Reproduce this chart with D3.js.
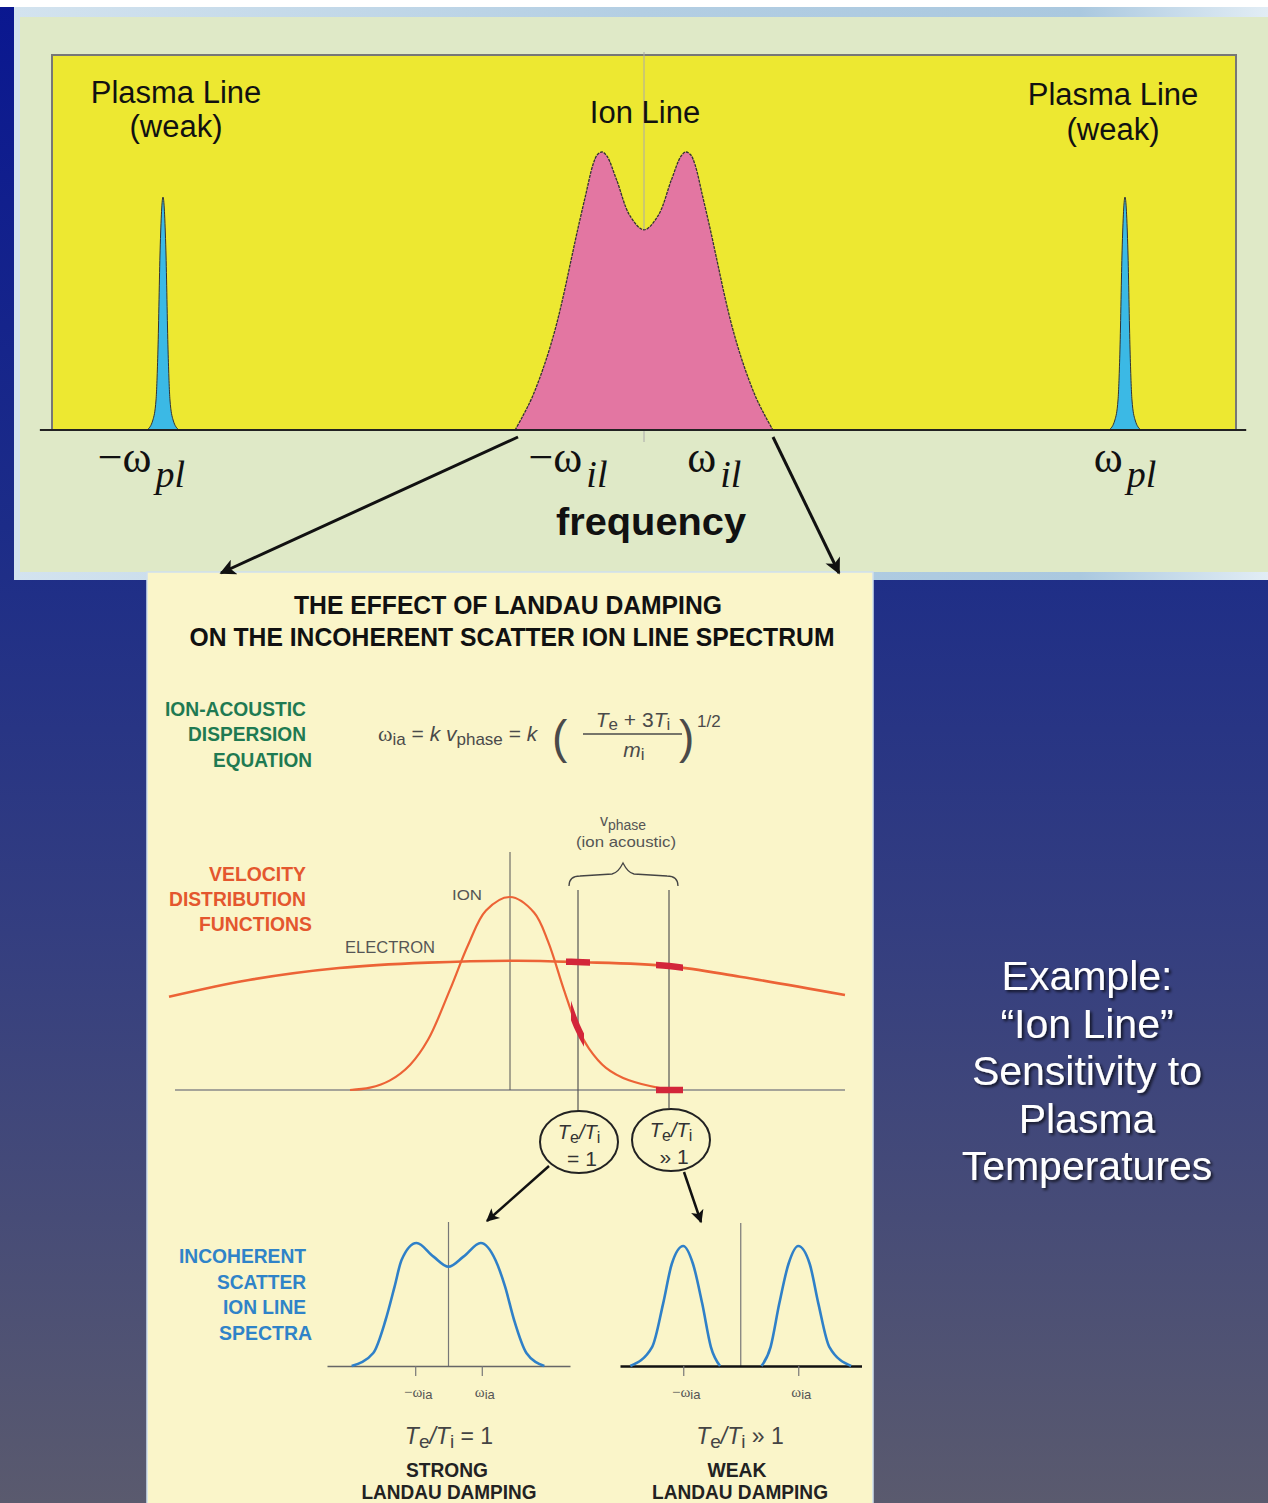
<!DOCTYPE html>
<html><head><meta charset="utf-8">
<script src="https://cdn.jsdelivr.net/npm/d3@7"></script>
<style>html,body{margin:0;padding:0;overflow:hidden;background:#fff}svg{display:block}</style>
</head><body>
<script>
// ---------------- DATA ----------------
// Top panel: ion line spectrum (frequency units: plasma line at ±100), amplitude relative to ion peak
const ionLineFreq = [-26.8,-25.2,-23.2,-20.6,-18.5,-16.8,-15.3,-13.8,-12.2,-10.6,-9.7,-8.7,-7.7,-5.7,-2.9,0,2.9,5.7,7.7,8.7,9.7,10.6,12.2,13.8,15.3,16.8,18.5,20.6,23.2,25.2,26.8];
const ionLineAmp  = [0,0.05,0.12,0.24,0.36,0.48,0.60,0.72,0.84,0.955,0.99,1.0,0.985,0.90,0.77,0.72,0.77,0.90,0.985,1.0,0.99,0.955,0.84,0.72,0.60,0.48,0.36,0.24,0.12,0.05,0];
const plasmaLineCenters = [-100, 100];
const plasmaLineOffset = [-3.3,-2.1,-1.45,-1.05,-0.6,0,0.6,1.05,1.45,2.1,3.3];
const plasmaLineAmp    = [0,0.036,0.108,0.288,0.647,0.838,0.647,0.288,0.108,0.036,0];
const topTickMain = ["\u2212\u03c9","\u2212\u03c9","\u03c9","\u03c9"];
const topTickSub  = ["pl","il","il","pl"];
const topTickFreq = [-104.5,-15.8,14.6,100];

// Velocity distribution functions
const electronVel  = [-34.1,-26.1,-17.1,-8.2,0.7,6.7,15.9,23.0,33.5];
const electronDist = [0.483,0.570,0.632,0.660,0.670,0.663,0.642,0.587,0.492];
const ionVel  = [-16.0,-14.0,-12.0,-10.0,-8.2,-6.0,-4.2,-2.4,0,2.4,3.8,5.4,6.7,7.9,9.6,11.9,15.0];
const ionDist = [0,0.012,0.05,0.13,0.26,0.52,0.75,0.93,1.0,0.92,0.77,0.518,0.33,0.215,0.115,0.05,0.01];
const phaseVel = [6.8, 15.9];
const electronBars = [[5.6,8.0],[14.6,17.3]];
const ionBars = [[6.1,7.4]];
const baselineBars = [[14.6,17.3]];

// Incoherent scatter ion line spectra (frequency in units of omega_ia)
const strongW = [-2.91,-2.26,-1.89,-1.62,-1.41,-0.96,-0.45,0,0.45,0.97,1.41,1.70,1.97,2.34,2.88];
const strongA = [0,0.106,0.374,0.645,0.862,1.0,0.889,0.807,0.889,1.0,0.862,0.645,0.374,0.106,0];
const weakLeftW  = [-1.92,-1.54,-1.35,-1.20,-1.0,-0.83,-0.67,-0.52,-0.36];
const weakRightW = [0.36,0.52,0.67,0.83,1.0,1.20,1.35,1.54,1.92];
const weakPeakA  = [0,0.16,0.52,0.85,1.0,0.85,0.52,0.16,0];
const weakRightA = [0,0.16,0.52,0.85,1.0,0.85,0.52,0.16,0];
const spectraTicks = [-1, 1];

// ---------------- LAYOUT ----------------
const W = 1268, H = 1503;
const SANS = "'Liberation Sans', Arial, Helvetica, sans-serif";
const NARROW = "'Liberation Sans Narrow', 'Liberation Sans', Arial, sans-serif";
const SERIF = "'Liberation Serif', 'Times New Roman', serif";
const smooth = d3.curveCatmullRom.alpha(0.5);

const svg = d3.select("body").append("svg").attr("width", W).attr("height", H);
const defs = svg.append("defs");

const bg = defs.append("linearGradient").attr("id","bg").attr("gradientUnits","userSpaceOnUse")
  .attr("x1",0).attr("y1",0).attr("x2",0).attr("y2",H);
[[0,"#0a1790"],[0.35,"#1c2c88"],[0.62,"#343e80"],[1,"#5a5a6e"]].forEach(s=>bg.append("stop").attr("offset",s[0]).attr("stop-color",s[1]));
const fr = defs.append("linearGradient").attr("id","frame").attr("x1",0).attr("x2",1).attr("y1",0).attr("y2",0);
[[0,"#d3e3ef"],[0.5,"#b3cee3"],[0.85,"#aac8df"],[1,"#e2edf5"]].forEach(s=>fr.append("stop").attr("offset",s[0]).attr("stop-color",s[1]));

function marker(id, w, h) {
  defs.append("marker").attr("id", id).attr("viewBox","0 0 10 10").attr("refX",9).attr("refY",5)
    .attr("markerUnits","userSpaceOnUse").attr("markerWidth", w).attr("markerHeight", h).attr("orient","auto")
    .append("path").attr("d","M0,0 L10,5 L0,10 L2.5,5 Z").attr("fill","#111");
}
marker("arrowBig", 22, 16);
marker("arrowSmall", 16, 13);

const sh = defs.append("filter").attr("id","shadow").attr("x","-10%").attr("y","-20%").attr("width","130%").attr("height","150%");
sh.append("feDropShadow").attr("dx",2).attr("dy",2).attr("stdDeviation",1.5).attr("flood-color","#000").attr("flood-opacity",0.7);

// background
svg.append("rect").attr("width",W).attr("height",H).attr("fill","url(#bg)");
svg.append("rect").attr("width",W).attr("height",7).attr("fill","#fff");

// ---------- TOP PANEL ----------
svg.append("rect").attr("x",14).attr("y",7).attr("width",W-14).attr("height",573).attr("fill","url(#frame)");
svg.append("rect").attr("x",20).attr("y",17).attr("width",W-20).attr("height",555).attr("fill","#dfe9c7");
svg.append("rect").attr("x",52).attr("y",55).attr("width",1184).attr("height",375)
  .attr("fill","#ede831").attr("stroke","#777").attr("stroke-width",2);

const xTop = d3.scaleLinear().domain([-100,100]).range([163,1125]);
const yTop = d3.scaleLinear().domain([0,1]).range([430,152]);

svg.append("line").attr("x1",xTop(0)).attr("x2",xTop(0)).attr("y1",52).attr("y2",442)
  .attr("stroke","#aaa").attr("stroke-width",1);

const areaPlasma = d3.area().x(d=>xTop(d[0])).y0(yTop(0)).y1(d=>yTop(d[1])).curve(d3.curveMonotoneX);
const linePlasma = d3.line().x(d=>xTop(d[0])).y(d=>yTop(d[1])).curve(d3.curveMonotoneX);
const areaIon = d3.area().x(d=>xTop(d[0])).y0(yTop(0)).y1(d=>yTop(d[1])).curve(smooth);
const lineIon = d3.line().x(d=>xTop(d[0])).y(d=>yTop(d[1])).curve(smooth);

plasmaLineCenters.forEach(c => {
  const pts = plasmaLineOffset.map((o,i)=>[c+o, plasmaLineAmp[i]]);
  svg.append("path").attr("d", areaPlasma(pts)).attr("fill","#3bb9e5");
  svg.append("path").attr("d", linePlasma(pts)).attr("fill","none").attr("stroke","#333").attr("stroke-width",1);
});
const ionPts = ionLineFreq.map((f,i)=>[f, ionLineAmp[i]]);
svg.append("path").attr("d", areaIon(ionPts)).attr("fill","#e376a2");
svg.append("path").attr("d", lineIon(ionPts)).attr("fill","none").attr("stroke","#333").attr("stroke-width",1.3).attr("stroke-dasharray","3,1");

// baseline
svg.append("line").attr("x1",xTop(-125.6)).attr("x2",xTop(125.2)).attr("y1",yTop(0)).attr("y2",yTop(0))
  .attr("stroke","#222").attr("stroke-width",2);

function txt(x, y, s, o = {}) {
  const t = svg.append("text").attr("x",x).attr("y",y).text(s)
    .attr("font-family", o.family || SANS).attr("font-size", o.size || 20)
    .attr("fill", o.fill || "#111").attr("text-anchor", o.anchor || "middle");
  if (o.weight) t.attr("font-weight", o.weight);
  if (o.style) t.attr("font-style", o.style);
  if (o.len) t.attr("textLength", o.len).attr("lengthAdjust","spacingAndGlyphs");
  return t;
}

txt(176,103,"Plasma Line",{size:31});
txt(176,137,"(weak)",{size:31});
txt(645,123,"Ion Line",{size:31});
txt(1113,105,"Plasma Line",{size:31});
txt(1113,140,"(weak)",{size:31});

topTickMain.forEach((m,i) => {
  const t = svg.append("text").attr("x", xTop(topTickFreq[i])).attr("y", 472)
    .attr("text-anchor","middle").attr("font-family", SERIF).attr("fill","#111");
  t.append("tspan").attr("font-size",44).text(m);
  t.append("tspan").attr("font-size",38).attr("font-style","italic").attr("dy",15).attr("dx",4).text(topTickSub[i]);
});
txt(651,535,"frequency",{size:38,weight:"bold",len:190});

// ---------- BOTTOM PANEL ----------
svg.append("rect").attr("x",147).attr("y",572).attr("width",726).attr("height",H-572+5)
  .attr("fill","#faf5c9").attr("stroke","#cfe0ee").attr("stroke-width",1.5);

// arrows from top panel
svg.append("line").attr("x1",518).attr("y1",437).attr("x2",221).attr("y2",573)
  .attr("stroke","#111").attr("stroke-width",3).attr("marker-end","url(#arrowBig)");
svg.append("line").attr("x1",773).attr("y1",437).attr("x2",839).attr("y2",573)
  .attr("stroke","#111").attr("stroke-width",3).attr("marker-end","url(#arrowBig)");

// titles
txt(508,614,"THE EFFECT OF LANDAU DAMPING",{family:NARROW,size:25,weight:"bold",len:428});
txt(512,646,"ON THE INCOHERENT SCATTER ION LINE SPECTRUM",{family:NARROW,size:25,weight:"bold",len:645});

function sideLabels(lines, rights, widths, ys, color) {
  lines.forEach((s,i)=> txt(rights[i]-widths[i], ys[i], s, {family:NARROW,size:21,weight:"bold",fill:color,anchor:"start",len:widths[i]}));
}
sideLabels(["ION-ACOUSTIC","DISPERSION","EQUATION"],[306,306,312],[141,118,99],[716,741,767],"#1f7a52");
sideLabels(["VELOCITY","DISTRIBUTION","FUNCTIONS"],[306,306,312],[97,137,113],[881,906,931],"#e4572e");
sideLabels(["INCOHERENT","SCATTER","ION LINE","SPECTRA"],[306,306,306,312],[127,89,83,93],[1263,1289,1314,1340],"#2f83c8");

// formula
const FC = "#4a4a4a";
{
  const t = svg.append("text").attr("x",378).attr("y",741).attr("font-family",SANS).attr("font-size",21).attr("fill",FC);
  t.append("tspan").attr("font-family",SERIF).attr("font-size",22).text("\u03c9");
  t.append("tspan").attr("font-size",17).attr("dy",4).text("ia");
  t.append("tspan").attr("dy",-4).text(" = ");
  t.append("tspan").attr("font-style","italic").text("k v");
  t.append("tspan").attr("font-size",17).attr("dy",4).text("phase");
  t.append("tspan").attr("dy",-4).text(" = ");
  t.append("tspan").attr("font-style","italic").text("k");
  svg.append("text").attr("x",552).attr("y",753).attr("font-family",SANS).attr("font-size",46).attr("fill",FC).text("(");
  svg.append("text").attr("x",679).attr("y",753).attr("font-family",SANS).attr("font-size",46).attr("fill",FC).text(")");
  const n = svg.append("text").attr("x",633).attr("y",727).attr("text-anchor","middle").attr("font-family",SANS).attr("font-size",21).attr("fill",FC);
  n.append("tspan").attr("font-style","italic").text("T");
  n.append("tspan").attr("font-size",17).attr("dy",3).text("e");
  n.append("tspan").attr("dy",-3).text(" + 3");
  n.append("tspan").attr("font-style","italic").text("T");
  n.append("tspan").attr("font-size",17).attr("dy",3).text("i");
  svg.append("line").attr("x1",583).attr("x2",682).attr("y1",734).attr("y2",734).attr("stroke",FC).attr("stroke-width",1.5);
  const d = svg.append("text").attr("x",634).attr("y",757).attr("text-anchor","middle").attr("font-family",SANS).attr("font-size",21).attr("fill",FC);
  d.append("tspan").attr("font-style","italic").text("m");
  d.append("tspan").attr("font-size",17).attr("dy",3).text("i");
  txt(697,727,"1/2",{size:17,fill:FC,anchor:"start"});
}

// velocity distribution panel
const vScale = d3.scaleLinear().domain([-34,34]).range([170,850]);
const fScale = d3.scaleLinear().domain([0,1]).range([1090,897]);
const GREY = "#555";
svg.append("line").attr("x1",vScale(-33.5)).attr("x2",vScale(33.5)).attr("y1",fScale(0)).attr("y2",fScale(0)).attr("stroke","#888").attr("stroke-width",1.5);
svg.append("line").attr("x1",vScale(0)).attr("x2",vScale(0)).attr("y1",852).attr("y2",fScale(0)).attr("stroke",GREY).attr("stroke-width",1);
const circleTops = [1111, 1108];
phaseVel.forEach((v,i)=> svg.append("line").attr("x1",vScale(v)).attr("x2",vScale(v)).attr("y1",890).attr("y2",circleTops[i]).attr("stroke",GREY).attr("stroke-width",1.2));

const vLine = d3.line().x(d=>vScale(d[0])).y(d=>fScale(d[1])).curve(smooth);
const ePts = electronVel.map((v,i)=>[v, electronDist[i]]);
const iPts = ionVel.map((v,i)=>[v, ionDist[i]]);
const ORANGE = "#ec6336";
svg.append("path").attr("d", vLine(ePts)).attr("fill","none").attr("stroke",ORANGE).attr("stroke-width",2.6);
svg.append("path").attr("d", vLine(iPts)).attr("fill","none").attr("stroke",ORANGE).attr("stroke-width",2.2);

// red thick bars = clipped thick copies of curves
const RED = "#d3263a";
function bars(ranges, pathD, idBase) {
  ranges.forEach((r,k)=>{
    const id = idBase + k;
    defs.append("clipPath").attr("id", id).append("rect")
      .attr("x", vScale(r[0])).attr("width", vScale(r[1])-vScale(r[0])).attr("y", 800).attr("height", 320);
    svg.append("path").attr("d", pathD).attr("fill","none").attr("stroke",RED).attr("stroke-width",6.5).attr("clip-path",`url(#${id})`);
  });
}
bars(electronBars, vLine(ePts), "eb");
bars(ionBars, vLine(iPts), "ib");
bars(baselineBars, vLine([[-34,0],[34,0]]), "bb");

// brace & labels
svg.append("path").attr("d","M569,886 Q569,876 580,876 L612,874 Q618,873 623,863 Q628,873 634,874 L667,876 Q678,876 678,886")
  .attr("fill","none").attr("stroke","#444").attr("stroke-width",1.3);
{
  const t = svg.append("text").attr("x",623).attr("y",826).attr("text-anchor","middle").attr("font-family",SANS).attr("fill",GREY);
  t.append("tspan").attr("font-size",16).text("v");
  t.append("tspan").attr("font-size",14).attr("dy",4).text("phase");
}
txt(626,847,"(ion acoustic)",{size:15,fill:GREY,len:100});
txt(467,900,"ION",{size:15,fill:GREY,len:30});
txt(390,953,"ELECTRON",{size:16,fill:GREY,len:90});

// circles
const circleCx = [579, 671], circleCy = [1142, 1140];
const circleSecond = ["= 1", "\u00bb 1"];
circleCx.forEach((cx,i)=>{
  svg.append("ellipse").attr("cx",cx).attr("cy",circleCy[i]).attr("rx",39).attr("ry",31)
    .attr("fill","none").attr("stroke","#222").attr("stroke-width",2);
  const t = svg.append("text").attr("x",cx).attr("y",circleCy[i]-3).attr("text-anchor","middle").attr("font-family",SANS).attr("font-size",20).attr("fill","#333");
  t.append("tspan").attr("font-style","italic").text("T");
  t.append("tspan").attr("font-size",16).attr("dy",4).text("e");
  t.append("tspan").attr("dy",-4).attr("font-style","italic").text("/T");
  t.append("tspan").attr("font-size",16).attr("dy",4).text("i");
  txt(cx+3, circleCy[i]+24, circleSecond[i], {size:21,fill:"#333"});
});
svg.append("line").attr("x1",549).attr("y1",1166).attr("x2",487).attr("y2",1221)
  .attr("stroke","#111").attr("stroke-width",2.5).attr("marker-end","url(#arrowSmall)");
svg.append("line").attr("x1",684).attr("y1",1172).attr("x2",701).attr("y2",1222)
  .attr("stroke","#111").attr("stroke-width",2.5).attr("marker-end","url(#arrowSmall)");

// spectra
const BLUE = "#2f80c8";
const wStrong = d3.scaleLinear().domain([-3.65,3.65]).range([327,570]);
const aStrong = d3.scaleLinear().domain([0,1]).range([1366,1243]);
const wWeak = d3.scaleLinear().domain([-2.1,2.1]).range([620,861.5]);
const aWeak = d3.scaleLinear().domain([0,1]).range([1366,1246]);

function spectrumAxis(scale, strokeW, color) {
  const g = svg.append("g").attr("transform","translate(0,1366)")
    .call(d3.axisBottom(scale).tickValues(spectraTicks).tickSize(10).tickSizeOuter(0).tickFormat(""));
  g.select(".domain").attr("stroke",color).attr("stroke-width",strokeW);
  g.selectAll(".tick line").attr("stroke","#777").attr("stroke-width",1.2);
  spectraTicks.forEach(v=>{
    const t = svg.append("text").attr("x", scale(v)+3).attr("y",1397).attr("text-anchor","middle").attr("font-family",SANS).attr("fill",GREY);
    t.append("tspan").attr("font-family",SERIF).attr("font-size",15).text(v<0 ? "\u2212\u03c9" : "\u03c9");
    t.append("tspan").attr("font-size",13).attr("dy",2).text("ia");
  });
}
svg.append("line").attr("x1",wStrong(0)).attr("x2",wStrong(0)).attr("y1",1222).attr("y2",1366).attr("stroke","#777").attr("stroke-width",1.2);
svg.append("line").attr("x1",wWeak(0)).attr("x2",wWeak(0)).attr("y1",1223).attr("y2",1366).attr("stroke","#777").attr("stroke-width",1.2);
spectrumAxis(wStrong, 1.6, "#666");
spectrumAxis(wWeak, 2.6, "#111");

const sLine = d3.line().x(d=>wStrong(d[0])).y(d=>aStrong(d[1])).curve(d3.curveMonotoneX);
const kLine = d3.line().x(d=>wWeak(d[0])).y(d=>aWeak(d[1])).curve(d3.curveMonotoneX);
svg.append("path").attr("d", sLine(strongW.map((w,i)=>[w,strongA[i]]))).attr("fill","none").attr("stroke",BLUE).attr("stroke-width",2.6);
svg.append("path").attr("d", kLine(weakLeftW.map((w,i)=>[w,weakPeakA[i]]))).attr("fill","none").attr("stroke",BLUE).attr("stroke-width",2.6);
svg.append("path").attr("d", kLine(weakRightW.map((w,i)=>[w,weakRightA[i]]))).attr("fill","none").attr("stroke",BLUE).attr("stroke-width",2.6);

// bottom captions
function ratio(cx, rest) {
  const t = svg.append("text").attr("x",cx).attr("y",1444).attr("text-anchor","middle").attr("font-family",SANS).attr("font-size",23).attr("fill","#444");
  t.append("tspan").attr("font-style","italic").text("T");
  t.append("tspan").attr("font-size",19).attr("dy",4).text("e");
  t.append("tspan").attr("dy",-4).attr("font-style","italic").text("/T");
  t.append("tspan").attr("font-size",19).attr("dy",4).text("i");
  t.append("tspan").attr("dy",-4).text(rest);
}
ratio(449, "  = 1");
ratio(740, " \u00bb 1");
txt(447,1477,"STRONG",{family:NARROW,size:21,weight:"bold",fill:"#222",len:82});
txt(449,1499,"LANDAU DAMPING",{family:NARROW,size:20,weight:"bold",fill:"#222",len:175});
txt(737,1477,"WEAK",{family:NARROW,size:21,weight:"bold",fill:"#222",len:59});
txt(740,1499,"LANDAU DAMPING",{family:NARROW,size:20,weight:"bold",fill:"#222",len:176});

// right side text
const sideText = ["Example:", "\u201cIon Line\u201d", "Sensitivity to", "Plasma", "Temperatures"];
sideText.forEach((s,i)=> txt(1087, 990 + i*47.5, s, {size:41, fill:"#fff"}).attr("filter","url(#shadow)"));
</script>
</body></html>
